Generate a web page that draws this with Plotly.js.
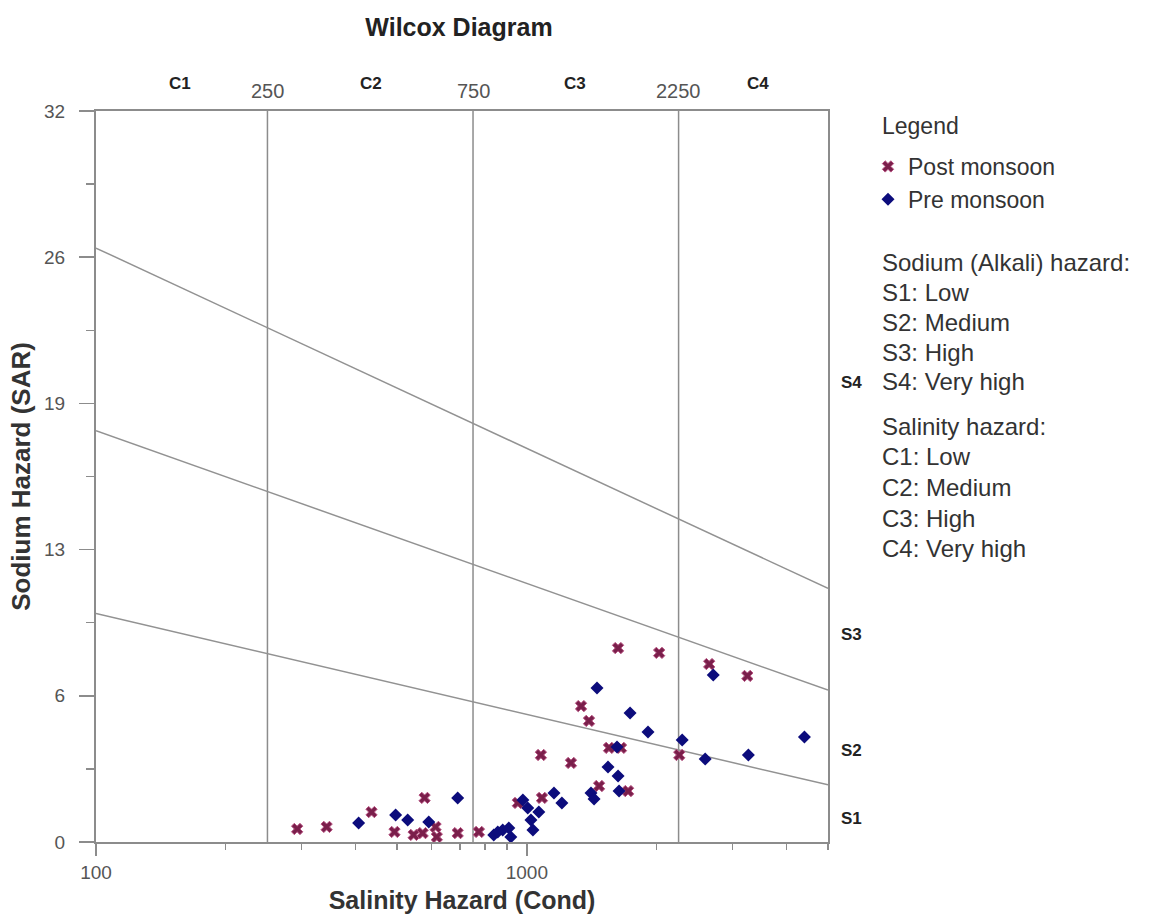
<!DOCTYPE html>
<html>
<head>
<meta charset="utf-8">
<script src="https://cdn.plot.ly/plotly-3.0.1.min.js"></script>
<style>html,body{margin:0;padding:0;background:#fff;}#chart{width:1154px;height:920px;}</style>
</head>
<body>
<div id="chart"></div>
<script>
// Post monsoon samples: conductivity (µS/cm) and SAR
const postEC  = [293, 343, 436, 493, 579, 546, 573, 614, 618, 691, 774, 953, 1084, 1078, 1266, 1336, 1394, 1471, 1551, 1654, 1628, 2028, 1718, 2258, 2650, 3249];
const postSAR = [0.57, 0.66, 1.31, 0.44, 1.93, 0.31, 0.39, 0.66, 0.22, 0.39, 0.44, 1.71, 1.93, 3.81, 3.46, 5.95, 5.30, 2.45, 4.12, 4.12, 8.49, 8.28, 2.23, 3.81, 7.79, 7.27];
// Pre monsoon samples
const preEC  = [407, 496, 529, 592, 691, 838, 879, 908, 918, 856, 979, 1005, 1022, 1033, 1066, 1156, 1206, 1409, 1432, 1455, 1543, 1628, 1619, 1637, 1736, 1911, 2294, 2594, 2708, 3267, 4409];
const preSAR = [0.83, 1.18, 0.96, 0.88, 1.93, 0.31, 0.53, 0.61, 0.22, 0.44, 1.84, 1.49, 0.96, 0.53, 1.31, 2.15, 1.71, 2.15, 1.88, 6.74, 3.28, 2.89, 4.16, 2.23, 5.65, 4.82, 4.47, 3.63, 7.31, 3.81, 4.60];

// Salinity class boundaries and labels
const cBounds = [250, 750, 2250];
const cLabels = ['C1', 'C2', 'C3', 'C4'];
const cLabelEC = [157, 434, 1293, 3446];
// Sodium hazard boundary lines (SAR at EC = 100 and EC = 5000)
const ecEnds = [100, 5000];
const sBoundLeft  = [10, 18, 26];
const sBoundRight = [2.5, 6.65, 11.1];
const sLabels = ['S1', 'S2', 'S3', 'S4'];
const sLabelSAR = [1.05, 4.0, 9.1, 20.1];
// Axis ticks
const yTickVals = [0, 6.4, 12.8, 19.2, 25.6, 32];
const yTickText = ['0', '6', '13', '19', '26', '32'];
const yMinorVals = [3.2, 9.6, 16, 22.4, 28.8];
const xTickVals = [100, 1000];
const xTickText = ['100', '1000'];
const xMinorVals = [200, 300, 400, 500, 600, 700, 800, 900, 2000, 3000, 4000, 5000];
const sodiumText = ['Sodium (Alkali) hazard:', 'S1: Low', 'S2: Medium', 'S3: High', 'S4: Very high'];
const salinityText = ['Salinity hazard:', 'C1: Low', 'C2: Medium', 'C3: High', 'C4: Very high'];

const FONT = 'Arial, "Liberation Sans", sans-serif';
const GRAY = '#8c8c8c';
const traces = [];

cBounds.forEach(v => traces.push({
  x: [v, v], y: [0, 32], mode: 'lines', showlegend: false, hoverinfo: 'skip',
  line: {color: GRAY, width: 1.5}
}));
sBoundLeft.forEach((l, i) => traces.push({
  x: ecEnds, y: [l, sBoundRight[i]], mode: 'lines', showlegend: false, hoverinfo: 'skip',
  line: {color: '#929292', width: 1.5}
}));

traces.push({
  x: postEC, y: postSAR, mode: 'markers', name: 'Post monsoon', type: 'scatter',
  marker: {symbol: 'x', size: 10, color: '#7a1f4b', line: {color: '#b5507f', width: 1}}
});
traces.push({
  x: preEC, y: preSAR, mode: 'markers', name: 'Pre monsoon', type: 'scatter',
  marker: {symbol: 'diamond', size: 10, color: '#0c0c7c'}
});

const px = p => (p - 96) / 732;   // helper: pixel -> paper x
const py = p => (842 - p) / 731;  // helper: pixel -> paper y

const annotations = [];
cLabels.forEach((t, i) => annotations.push({
  x: Math.log10(cLabelEC[i]), y: py(84), xref: 'x', yref: 'paper', text: t, showarrow: false,
  font: {family: FONT, size: 17, color: '#222', weight: 'bold'}, xanchor: 'center', yanchor: 'middle'
}));
cBounds.forEach(v => annotations.push({
  x: Math.log10(v), y: py(91), xref: 'x', yref: 'paper', text: String(v), showarrow: false,
  font: {family: FONT, size: 20, color: '#555'}, xanchor: 'center', yanchor: 'middle'
}));
sLabels.forEach((t, i) => annotations.push({
  x: px(839), y: sLabelSAR[i], xref: 'paper', yref: 'y', text: t, showarrow: false,
  font: {family: FONT, size: 17, color: '#222', weight: 'bold'}, xanchor: 'left', yanchor: 'middle'
}));
annotations.push({
  x: px(880), y: py(126), xref: 'paper', yref: 'paper', text: 'Legend', showarrow: false,
  font: {family: FONT, size: 23, color: '#333'}, xanchor: 'left', yanchor: 'middle'
});
const sodiumY = [262, 292, 322, 352, 382];
const salinityY = [426, 456, 487, 518, 548];
sodiumText.forEach((t, i) => annotations.push({
  x: px(880), y: py(sodiumY[i]), xref: 'paper', yref: 'paper', text: t, showarrow: false,
  font: {family: FONT, size: 24, color: '#333'}, xanchor: 'left', yanchor: 'middle'
}));
salinityText.forEach((t, i) => annotations.push({
  x: px(880), y: py(salinityY[i]), xref: 'paper', yref: 'paper', text: t, showarrow: false,
  font: {family: FONT, size: 24, color: '#333'}, xanchor: 'left', yanchor: 'middle'
}));

const layout = {
  width: 1154, height: 920,
  margin: {l: 96, r: 326, t: 111, b: 78},
  paper_bgcolor: '#fff', plot_bgcolor: '#fff',
  font: {family: FONT},
  title: {text: 'Wilcox Diagram', x: 459 / 1154, xref: 'container', xanchor: 'center',
          y: 1 - 27 / 920, yref: 'container', yanchor: 'middle',
          font: {family: FONT, size: 25, color: '#222', weight: 'bold'}},
  xaxis: {
    type: 'log', range: [2, Math.log10(5000)],
    tickmode: 'array', tickvals: xTickVals, ticktext: xTickText,
    ticks: 'outside', ticklen: 12, tickwidth: 1.5, tickcolor: GRAY,
    minor: {tickmode: 'array', tickvals: xMinorVals, ticks: 'outside', ticklen: 6, tickwidth: 1.5, tickcolor: GRAY, showgrid: false},
    showline: true, linecolor: GRAY, linewidth: 2, mirror: true,
    showgrid: false, zeroline: false,
    tickfont: {family: FONT, size: 19, color: '#555'},
    title: {text: 'Salinity Hazard (Cond)', standoff: 10, font: {family: FONT, size: 25, color: '#333', weight: 'bold'}}
  },
  yaxis: {
    range: [0, 32],
    tickmode: 'array', tickvals: yTickVals, ticktext: yTickText,
    ticks: 'outside', ticklen: 15, tickwidth: 1.5, tickcolor: GRAY,
    minor: {tickmode: 'array', tickvals: yMinorVals, ticks: 'outside', ticklen: 8, tickwidth: 1.5, tickcolor: GRAY, showgrid: false},
    ticklabelstandoff: 10,
    showline: true, linecolor: GRAY, linewidth: 2, mirror: true,
    showgrid: false, zeroline: false,
    tickfont: {family: FONT, size: 19, color: '#555'},
    title: {text: 'Sodium Hazard (SAR)', standoff: 6, font: {family: FONT, size: 26, color: '#333', weight: 'bold'}}
  },
  showlegend: true,
  legend: {
    x: px(868), y: py(145), xanchor: 'left', yanchor: 'top',
    font: {family: FONT, size: 23, color: '#333'},
    bgcolor: 'rgba(0,0,0,0)', borderwidth: 0, tracegroupgap: 0
  },
  annotations: annotations
};

Plotly.newPlot('chart', traces, layout, {staticPlot: true, displayModeBar: false});
</script>
</body>
</html>
